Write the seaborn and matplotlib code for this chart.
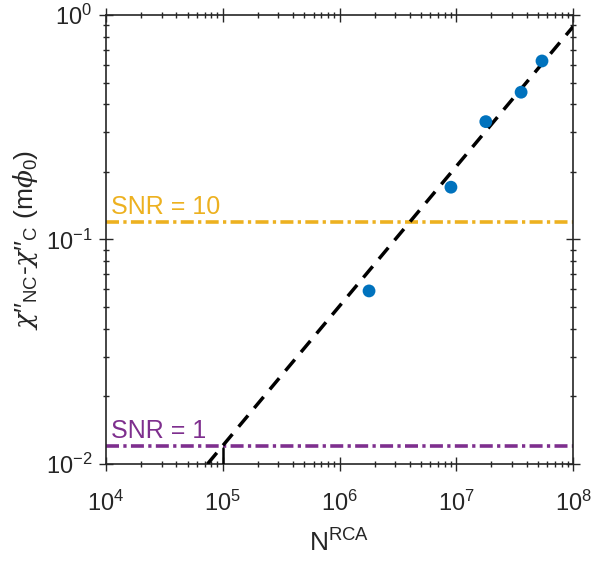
import numpy as np
import pandas as pd
import matplotlib
matplotlib.use('Agg')
import matplotlib.pyplot as plt
import matplotlib.ticker as mticker
import seaborn as sns

# measured points
n_rca = [1.79e6, 9.0e6, 1.79e7, 3.59e7, 5.42e7]
chi_diff = [0.059, 0.171, 0.335, 0.453, 0.624]

# fitted line endpoints
fit_n = [7.4e4, 1.0e8]
fit_chi = [0.01, 0.887]

# noise levels
snr_labels = ['SNR = 10', 'SNR = 1']
snr_levels = [0.12, 0.012]
snr_colors = ['#EDB120', '#7E2F8E']

# marker at N = 1e5 on the SNR = 1 level
mark_n = [1e5, 1e5]
mark_chi = [0.01, 0.0118]

sns.set_style('ticks')
plt.rcParams['font.family'] = ['Liberation Sans', 'DejaVu Sans']
plt.rcParams['mathtext.fontset'] = 'custom'
plt.rcParams['mathtext.rm'] = 'Liberation Sans'
plt.rcParams['mathtext.it'] = 'DejaVu Serif:italic'
plt.rcParams['mathtext.default'] = 'regular'
plt.rcParams['axes.unicode_minus'] = False

txt = '#262626'
fig = plt.figure(figsize=(5.92, 5.62), dpi=100)
ax = fig.add_axes([0.179, 0.1744, 0.789, 0.7989])

for lab, lev, col in zip(snr_labels, snr_levels, snr_colors):
    ax.plot([1e4, 1e8], [lev, lev], color=col, lw=2.6,
            dashes=(3.6, 1.2, 0.9, 1.2), zorder=2)
    ax.text(1.1e4, lev * 1.03, lab, color=col, fontsize=18,
            va='bottom', ha='left')

ax.plot(fit_n, fit_chi, color='black', lw=2.5, dashes=(4.2, 2.8), zorder=3)
ax.plot(mark_n, mark_chi, color='black', lw=1.8, zorder=3)

df = pd.DataFrame({'N': n_rca, 'chi': chi_diff})
sns.scatterplot(data=df, x='N', y='chi', ax=ax, color='#0072BD', s=85,
                edgecolor='none', zorder=4)

ax.set_xscale('log')
ax.set_yscale('log')
ax.set_xlim(1e4, 1e8)
ax.set_ylim(1e-2, 1e0)
ax.xaxis.set_minor_formatter(mticker.NullFormatter())
ax.yaxis.set_minor_formatter(mticker.NullFormatter())

for s in ax.spines.values():
    s.set_color(txt)
    s.set_linewidth(1.2)
    s.set_visible(True)
ax.tick_params(which='both', direction='inout', top=True, right=True,
               left=True, bottom=True, colors=txt, labelcolor=txt, width=1.0)
ax.tick_params(which='major', length=10)
ax.tick_params(which='minor', length=5)
ax.tick_params(axis='x', which='major', labelsize=17, pad=14)
ax.tick_params(axis='y', which='major', labelsize=17, pad=5)

ax.set_xlabel(r'N$^{\rm RCA}$', fontsize=19, color=txt, labelpad=10)
ax.set_ylabel("$\\mathit{\\chi\\prime\\prime}_{\\rm NC}$-$\\mathit{\\chi\\prime\\prime}_{\\rm C}$ (m$\\mathit{\\phi}_0$)",
              fontsize=19, color=txt, labelpad=4)

fig.savefig('out.png', dpi=100)
